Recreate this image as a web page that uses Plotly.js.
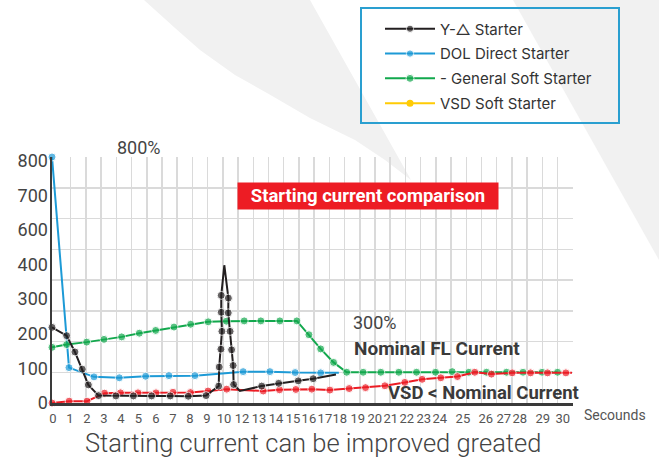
<!DOCTYPE html>
<html><head><meta charset="utf-8">
<script src="https://cdn.plot.ly/plotly-3.0.1.min.js"></script>
<style>html,body{margin:0;padding:0;background:#fff;}#chart{width:659px;height:457px;}</style>
</head><body><div id="chart"></div>
<script>
// ---------- data ----------
const seriesNames = ['Y-△ Starter', 'DOL Direct Starter', '- General Soft Starter', 'VSD Soft Starter'];

const ystarX = [0, 0.86, 1.35, 1.78, 2.14, 2.74, 3.76, 4.79, 5.86, 6.96, 8.02, 9.07, 9.81, 9.84, 9.94, 10.0, 9.96, 9.96, 10.14, 10.38, 10.37, 10.48, 10.57, 10.66, 10.69, 11.06, 12.34, 13.34, 14.49, 15.37, 16.71];
const ystarY = [246, 219, 166, 110, 59, 24, 23, 23, 23, 23, 22, 24, 55, 117, 175, 233, 295, 350, 448, 341, 293, 233, 173, 122, 60, 39, 55, 64, 72, 79, 93];

const dolX = [0, 1.0, 2.47, 3.96, 5.51, 6.88, 8.41, 11.25, 12.82, 14.31, 15.81, 16.88];
const dolY = [800, 115, 85, 82, 87, 89, 89, 102, 102, 99, 98, 98];

const softX = [0, 0.86, 2.04, 3.06, 4.1, 5.14, 6.1, 7.18, 8.16, 9.19, 10.26, 11.31, 12.29, 13.41, 14.41, 15.12, 15.81, 16.57, 17.34, 18.31, 19.35, 20.41, 21.45, 22.57, 23.55, 24.53, 25.57, 26.75, 27.72, 28.84, 29.75];
const softY = [181, 190, 198, 207, 215, 227, 236, 247, 256, 264, 266, 267, 267, 267, 267, 222, 176, 132, 100, 100, 100, 100, 100, 100, 102, 100, 100, 100, 100, 100, 100];

const vsdX = [0, 1.01, 2.06, 3.09, 4.03, 5.06, 6.12, 7.12, 8.15, 9.18, 10.28, 12.43, 13.39, 14.35, 15.29, 16.35, 17.49, 18.45, 19.59, 20.76, 21.78, 22.88, 23.86, 24.88, 25.86, 27.08, 28.16, 29.16, 30.24, 30.6];
const vsdY = [0, 6, 6, 32, 33, 33, 33, 35, 34, 39, 45, 39, 43, 44, 45, 42, 47, 50, 56, 67, 77, 82, 86, 100, 94, 98, 98, 98, 98, 98];

const xTickLabels = ['0','1','2','3','4','5','6','7','8','9','10','12','13','14','15','16','17','18','19','20','21','22','23','24','25','26','27','28','29','30'];
const yTickLabels = ['0','100','200','300','400','600','700','800'];

// ---------- layout helpers (positions / styles) ----------
const xTickPos = [0.06,1.06,2.06,3.06,4.06,5.09,6.12,7.12,8.12,9.12,10.12,11.18,12.18,13.18,14.18,15.12,16.06,16.94,18.0,19.0,19.94,20.88,21.88,22.82,24.18,25.53,26.59,27.53,28.88,30.06];
const yTickPos = yTickLabels.map((_, i) => i * 788 / 7);
const xGrid = []; for (let k = 0; k <= 33; k++) xGrid.push(1.1 + k * 0.8953);
const ystarNoDot = [18, 25, 30];
const dolNoDot = [11];
const vsdNoDot = [29];
const sizes = (arr, skip) => arr.map((_, i) => skip.includes(i) ? 0 : 8);

const L = 52, R = 573, T = 157, B = 403;
const px = p => (p - L) / (R - L);
const py = p => (B - p) / (B - T);

const C = {black: '#231f20', blue: '#1d9ad6', green: '#12a84d', red: '#ec1c24', yellow: '#ffcb05'};
const NUMFONT = 'Roboto, "DejaVu Sans", sans-serif';

function tr(x, y, name, color, nodot, rank, showleg) {
  return {type: 'scatter', mode: 'lines+markers', x: x, y: y, name: name,
    line: {color: color, width: 2}, marker: {color: color, size: sizes(x, nodot)},
    cliponaxis: false, showlegend: showleg, legendrank: rank, legendgroup: name};
}

const data = [
  tr(dolX, dolY, seriesNames[1], C.blue, dolNoDot, 2, true),
  tr(softX, softY, seriesNames[2], C.green, [], 3, true),
  tr(vsdX, vsdY, seriesNames[3], C.red, vsdNoDot, 5, false),
  tr(ystarX, ystarY, seriesNames[0], C.black, ystarNoDot, 1, true),
  {type: 'scatter', mode: 'lines+markers', x: [null], y: [null], name: seriesNames[3],
   line: {color: C.yellow, width: 2}, marker: {color: C.yellow, size: 7}, showlegend: true, legendrank: 4, legendgroup: 'vsdleg'}
];

const gray = '#f1f1f1';
function path(pts) { return 'M' + pts.map(p => px(p[0]) + ',' + py(p[1])).join('L') + 'Z'; }

const layout = {
  width: 659, height: 457,
  margin: {l: L, r: 659 - R, t: T, b: 457 - B, pad: 0},
  paper_bgcolor: '#ffffff', plot_bgcolor: 'rgba(0,0,0,0)',
  showlegend: true,
  legend: {x: px(380), y: py(12.5), xanchor: 'left', yanchor: 'top', bgcolor: 'rgba(0,0,0,0)', borderwidth: 0,
    font: {family: 'Inter, "Noto Sans", sans-serif', size: 15, color: '#333'}, tracegroupgap: 2.3, itemwidth: 50},
  xaxis: {range: [0, 30.66], tickmode: 'array', tickvals: xTickPos, ticktext: xTickLabels, tickangle: 0,
    showgrid: false, zeroline: false, showline: true, linecolor: '#3a3a3a', linewidth: 2.5,
    ticks: 'outside', ticklen: 2, tickcolor: 'rgba(0,0,0,0)',
    tickfont: {family: NUMFONT, size: 13, color: '#555'},
    minor: {tickmode: 'array', tickvals: xGrid, showgrid: true, gridcolor: '#dadada', gridwidth: 1.5, ticks: ''}},
  yaxis: {range: [0, 800], tickmode: 'array', tickvals: yTickPos, ticktext: yTickLabels,
    showgrid: false, zeroline: false, showline: true, linecolor: '#3a3a3a', linewidth: 2.5,
    ticks: '', ticklabelstandoff: -2,
    tickfont: {family: NUMFONT, size: 18, color: '#444'},
    minor: {tickmode: 'linear', tick0: 0, dtick: 100, showgrid: true, gridcolor: '#dadada', gridwidth: 1.5, ticks: ''}},
  shapes: [
    {type: 'path', xref: 'paper', yref: 'paper', layer: 'below', line: {width: 0}, fillcolor: gray,
     path: path([[144,0],[175,28],[200,50],[235,75],[267,93],[310,118],[355,140],[385,160],[411,180],[310,0]])},
    {type: 'path', xref: 'paper', yref: 'paper', layer: 'below', line: {width: 0}, fillcolor: gray,
     path: path([[513,0],[659,0],[659,260]])},
    {type: 'rect', xref: 'paper', yref: 'paper', layer: 'above', fillcolor: 'rgba(0,0,0,0)',
     line: {color: '#2a9fd0', width: 2}, x0: px(361), x1: px(619), y0: py(8), y1: py(123)}
  ],
  annotations: [
    {text: 'Starting current comparison', xref: 'paper', yref: 'paper', x: px(237), y: py(182), xanchor: 'left', yanchor: 'top',
     width: 260, height: 26, bgcolor: '#ed1c24', borderpad: 0, showarrow: false, align: 'center', valign: 'middle',
     font: {family: NUMFONT, size: 18.5, color: '#ffffff', weight: 'bold'}},
    {text: '800%', xref: 'paper', yref: 'paper', x: px(139), y: py(147.5), showarrow: false, xanchor: 'center', yanchor: 'middle',
     font: {family: NUMFONT, size: 18, color: '#444'}},
    {text: '300%', xref: 'paper', yref: 'paper', x: px(351), y: py(322.7), showarrow: false, xanchor: 'left', yanchor: 'middle',
     font: {family: NUMFONT, size: 18, color: '#444'}},
    {text: 'Nominal FL Current', xref: 'paper', yref: 'paper', x: px(352), y: py(348), showarrow: false, xanchor: 'left', yanchor: 'middle',
     font: {family: NUMFONT, size: 19, color: '#3a3a3a', weight: 'bold'}},
    {text: 'VSD &lt; Nominal Current', xref: 'paper', yref: 'paper', x: px(386), y: py(393), showarrow: false, xanchor: 'left', yanchor: 'middle',
     font: {family: NUMFONT, size: 18.5, color: '#3a3a3a', weight: 'bold'}},
    {text: 'Secounds', xref: 'paper', yref: 'paper', x: px(582), y: py(415), showarrow: false, xanchor: 'left', yanchor: 'middle',
     font: {family: NUMFONT, size: 14, color: '#555'}},
    {text: 'Starting current can be improved greated', xref: 'paper', yref: 'paper', x: px(313), y: py(443), showarrow: false,
     xanchor: 'center', yanchor: 'middle', font: {family: NUMFONT, size: 25.5, color: '#444', weight: 300}}
  ]
};

Plotly.newPlot('chart', data, layout, {displayModeBar: false, staticPlot: true});
</script></body></html>
